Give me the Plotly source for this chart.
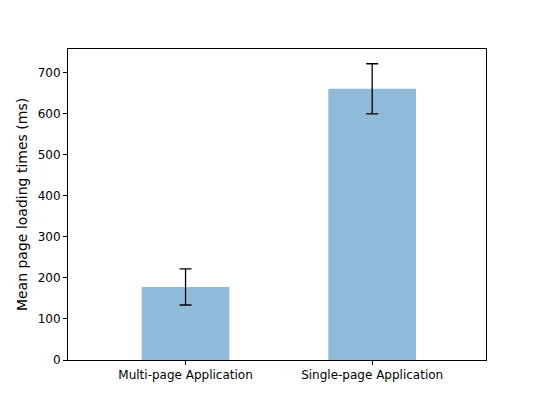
import plotly.graph_objects as go

categories = ["Multi-page Application", "Single-page Application"]
mean_times = [178, 661]
errors_plus = [44, 61]
errors_minus = [44, 61]

fig = go.Figure(go.Bar(
    x=[0, 1], y=mean_times, width=0.47,
    marker=dict(color="rgba(31,119,180,0.5)", line=dict(width=0)),
    error_y=dict(type="data", array=errors_plus, arrayminus=errors_minus,
                 color="black", thickness=1.3, width=6),
))

axis_common = dict(showline=True, linecolor="black", linewidth=1, mirror=True,
                   ticks="outside", ticklen=4, tickcolor="black",
                   showgrid=False, zeroline=False)
# page body adds an 8px offset, so margins are shifted to compensate
fig.update_layout(
    width=540, height=405,
    margin=dict(l=60, r=62, t=41, b=53),
    plot_bgcolor="white", paper_bgcolor="white",
    font=dict(family="DejaVu Sans", size=12, color="black"),
    showlegend=False,
    xaxis=dict(range=[-0.63, 1.61], tickvals=[0, 1], ticktext=categories, **axis_common),
    yaxis=dict(range=[0, 758], dtick=100,
               title=dict(text="Mean page loading times (ms)", standoff=6), **axis_common),
)

fig.write_html("out.html")
